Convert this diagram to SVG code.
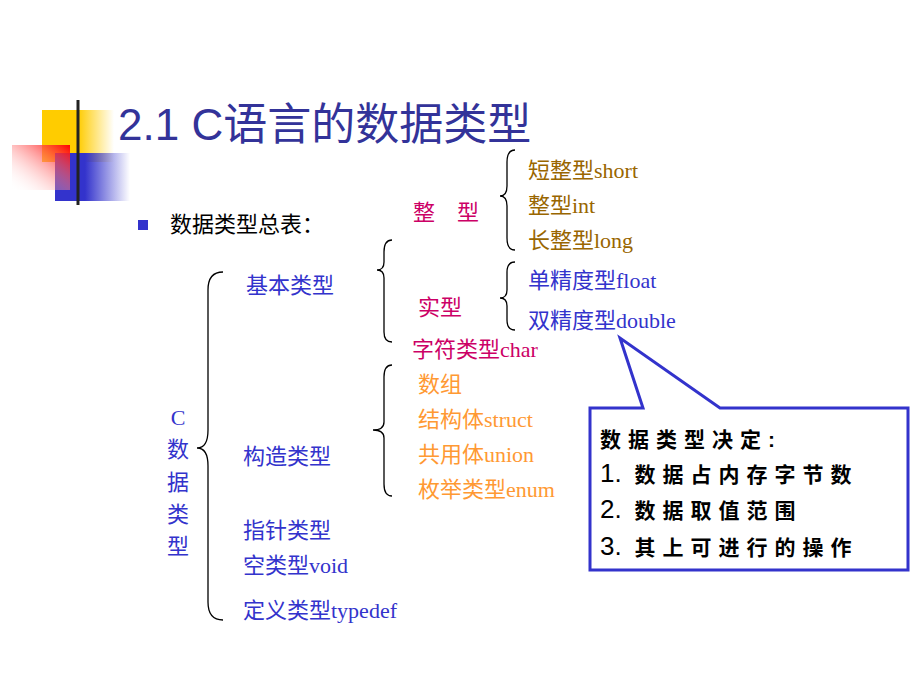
<svg xmlns="http://www.w3.org/2000/svg" width="920" height="690" viewBox="0 0 920 690">
<defs>
<linearGradient id="gy" x1="0" x2="1"><stop offset="0.5" stop-color="#FFCC00"/><stop offset="1" stop-color="#FFCC00" stop-opacity="0"/></linearGradient>
<linearGradient id="gb" x1="0" x2="1"><stop offset="0.4" stop-color="#3333CC"/><stop offset="1" stop-color="#3333CC" stop-opacity="0"/></linearGradient>
<linearGradient id="gr" x1="1" y1="0" x2="0" y2="1"><stop offset="0" stop-color="#FF0000"/><stop offset="1" stop-color="#FFFFFF" stop-opacity="0"/></linearGradient>
<linearGradient id="gl" x1="0" x2="1"><stop offset="0" stop-color="#222"/><stop offset="1" stop-color="#777"/></linearGradient>
<style>
.t{font-family:"Liberation Serif","Noto Sans CJK SC",serif;font-size:22px}
.br{fill:none;stroke:#000;stroke-width:1.3}
.brown{fill:#996600}.or{fill:#FF9933}.bl{fill:#3333CC}.mg{fill:#CC0066}
.n{font-size:26px;font-weight:normal;letter-spacing:0}
</style>
</defs>
<g id="deco">
<rect x="42" y="110" width="72" height="52" fill="url(#gy)"/>
<rect x="55" y="153" width="75" height="48" fill="url(#gb)"/>
<rect x="12" y="145" width="58" height="45" fill="url(#gr)"/>
<line x1="78" y1="100" x2="78" y2="205" stroke="#222" stroke-width="3"/>
<line x1="44" y1="181" x2="920" y2="181" stroke="url(#gl)" stroke-width="3"/>
</g>
<text id="title" x="118" y="140" font-family="'Liberation Sans','Noto Sans CJK SC',sans-serif" font-size="44" fill="#333399">2.1 C语言的数据类型</text>
<g id="summary">
<rect x="138" y="220" width="10" height="10" fill="#3333CC"/>
<text class="t" x="170" y="232" font-size="24">数据类型总表：</text>
</g>
<g id="connectors">
<path class="br" d="M223,272 Q208,272 208,290 L208,430 Q208,448 197,448 Q208,448 208,466 L208,602 Q208,620 223,620"/>
<path class="br" d="M392,240 Q384,240 384,252 L384,262 Q384,270 377,270 Q384,270 384,278 L384,332 Q384,342 392,342"/>
<path class="br" d="M515,150 Q507,150 507,162 L507,186 Q507,196 500,196 Q507,196 507,206 L507,238 Q507,250 515,250"/>
<path class="br" d="M515,262 Q507,262 507,272 L507,290 Q507,298 500,298 Q507,298 507,306 L507,320 Q507,330 515,330"/>
<path class="br" d="M392,365 Q384,365 384,377 L384,422 Q384,430 373,430 Q384,430 384,438 L384,484 Q384,496 392,496"/>
</g>
<g id="n-basic"><text class="t bl" x="246" y="293">基本类型</text></g>
<g id="n-int"><text class="t mg" x="413" y="220">整　型</text></g>
<g id="n-real"><text class="t mg" x="418" y="315">实型</text></g>
<g id="n-char"><text class="t mg" x="412" y="357">字符类型char</text></g>
<g id="n-ints">
<text class="t brown" x="528" y="178">短整型short</text>
<text class="t brown" x="528" y="213">整型int</text>
<text class="t brown" x="528" y="248">长整型long</text>
</g>
<g id="n-floats">
<text class="t bl" x="528" y="288">单精度型float</text>
<text class="t bl" x="528" y="328">双精度型double</text>
</g>
<g id="n-struct"><text class="t bl" x="243" y="464">构造类型</text></g>
<g id="n-structs">
<text class="t or" x="418" y="392">数组</text>
<text class="t or" x="418" y="427">结构体struct</text>
<text class="t or" x="418" y="462">共用体union</text>
<text class="t or" x="418" y="497">枚举类型enum</text>
</g>
<g id="n-c">
<text class="t bl" x="178" y="425" text-anchor="middle">C</text>
<text class="t bl" x="178" y="457" text-anchor="middle">数</text>
<text class="t bl" x="178" y="490" text-anchor="middle">据</text>
<text class="t bl" x="178" y="522" text-anchor="middle">类</text>
<text class="t bl" x="178" y="554" text-anchor="middle">型</text>
</g>
<g id="n-other">
<text class="t bl" x="243" y="538">指针类型</text>
<text class="t bl" x="243" y="573">空类型void</text>
<text class="t bl" x="243" y="618">定义类型typedef</text>
</g>
<g id="callout">
<path d="M590,408 L643,408 L620,338 L720,408 L908,408 L908,570 L590,570 Z" fill="#fff" stroke="#3333CC" stroke-width="3" stroke-linejoin="miter"/>
<g font-family="'Liberation Sans','Noto Sans CJK SC',sans-serif" font-size="21" fill="#000" font-weight="bold" letter-spacing="7">
<text x="600" y="447">数据类型决定:</text>
<text x="600" y="482"><tspan class="n">1.</tspan> 数据占内存字节数</text>
<text x="600" y="518"><tspan class="n">2.</tspan> 数据取值范围</text>
<text x="600" y="555"><tspan class="n">3.</tspan> 其上可进行的操作</text>
</g>
</g>
</svg>
